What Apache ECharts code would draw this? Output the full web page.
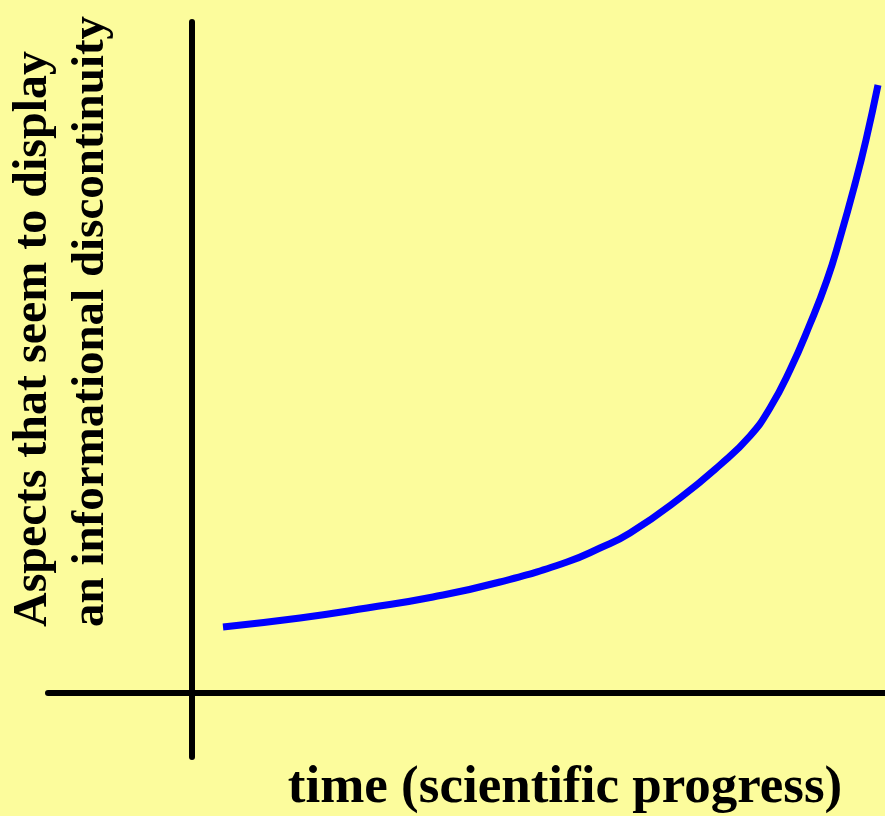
<!DOCTYPE html>
<html lang="en">
<head>
    <meta charset="UTF-8">
    <title>Informational discontinuity over time</title>
    <script src="https://cdn.jsdelivr.net/npm/echarts@6/dist/echarts.min.js"></script>
    <style>
        html, body {
            margin: 0;
            padding: 0;
            background: #FCFC9C;
        }
        #chart {
            width: 885px;
            height: 816px;
        }
    </style>
</head>
<body>
<div id="chart"></div>
<script>
    // curve (x: time, y: aspects)
    const timeValues = [0.31, 1.08, 1.75, 2.41, 3.08, 3.75, 4.08, 4.38, 4.88, 5.28,
                        5.58, 5.78, 5.98, 6.18, 6.35, 6.48, 6.63, 6.74, 6.86];
    const aspectValues = [0.66, 0.75, 0.85, 0.96, 1.11, 1.31, 1.45, 1.60, 1.95, 2.28,
                          2.57, 2.85, 3.23, 3.69, 4.13, 4.55, 5.09, 5.53, 6.08];
    const yLabelLines = ['Aspects that seem to display', 'an informational discontinuity'];
    const xLabel = 'time (scientific progress)';

    const serif = '"Liberation Serif", "DejaVu Serif", serif';

    const chart = echarts.init(document.getElementById('chart'));

    const axisLine = {
        show: true,
        onZero: true,
        lineStyle: { color: '#000', width: 6 }
    };

    const option = {
        backgroundColor: '#FCFC9C',
        animation: false,
        grid: { left: 48, right: 0, top: 22, bottom: 59 },
        xAxis: {
            type: 'value',
            min: -1.44,
            max: 6.93,
            axisLine: axisLine,
            axisTick: { show: false },
            axisLabel: { show: false },
            splitLine: { show: false }
        },
        yAxis: {
            type: 'value',
            min: -0.64,
            max: 6.71,
            axisLine: axisLine,
            axisTick: { show: false },
            axisLabel: { show: false },
            splitLine: { show: false }
        },
        series: [{
            type: 'line',
            data: timeValues.map((t, i) => [t, aspectValues[i]]),
            smooth: 0.5,
            symbol: 'none',
            clip: false,
            lineStyle: { color: '#0000FF', width: 7, cap: 'butt' }
        }],
        graphic: [
            {
                type: 'text',
                x: 34, y: 627,
                rotation: Math.PI / 2,
                style: {
                    text: yLabelLines[0],
                    font: 'bold 48px ' + serif,
                    fill: '#000',
                    align: 'left',
                    verticalAlign: 'middle'
                }
            },
            {
                type: 'text',
                x: 91, y: 627,
                rotation: Math.PI / 2,
                style: {
                    text: yLabelLines[1],
                    font: 'bold 47px ' + serif,
                    fill: '#000',
                    align: 'left',
                    verticalAlign: 'middle'
                }
            },
            {
                type: 'text',
                x: 565, y: 788,
                style: {
                    text: xLabel,
                    font: 'bold 53px ' + serif,
                    fill: '#000',
                    align: 'center',
                    verticalAlign: 'middle'
                }
            }
        ]
    };

    chart.setOption(option);
</script>
</body>
</html>
